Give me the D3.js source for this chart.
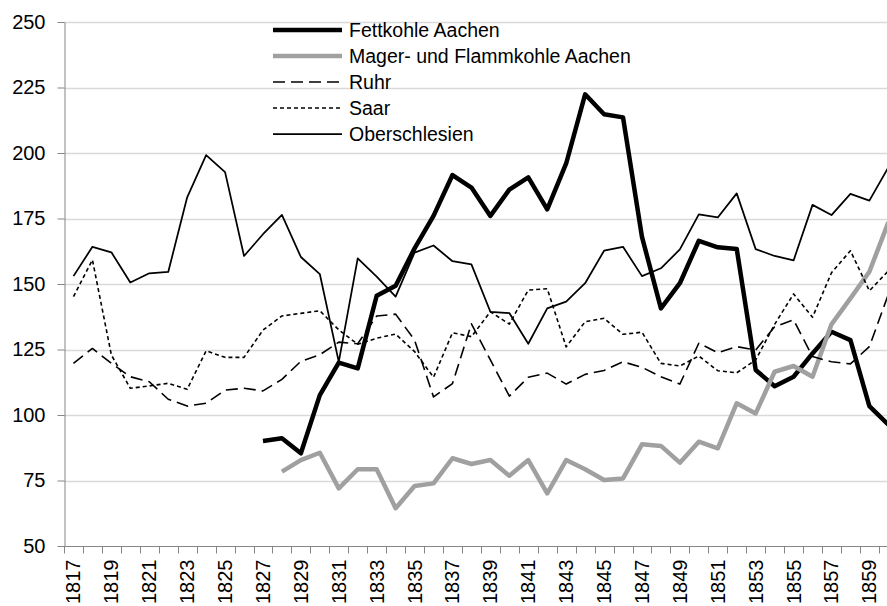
<!DOCTYPE html>
<html>
<head>
<meta charset="utf-8">
<script src="https://cdn.jsdelivr.net/npm/d3@7"></script>
<style>
  body { margin: 0; background: #fff; }
  svg { display: block; font-family: "Liberation Sans", Arial, sans-serif; }
</style>
</head>
<body>
<div id="chart"></div>
<script>
const years = d3.range(1817, 1861);

const fettkohle = [
  null, null, null, null, null, null, null, null, null, null,
  90.1, 91.1, 85.4, 107.6, 120.0, 117.8, 145.5, 149.3, 163.6, 176.0,
  191.6, 186.8, 176.0, 186.0, 190.7, 178.5, 196.0, 222.4, 214.8, 213.6,
  168.0, 140.7, 150.3, 166.5, 164.0, 163.4, 117.2, 111.0, 114.6, 123.5,
  131.8, 128.6, 103.4, 96.3
];

const magerkohle = [
  null, null, null, null, null, null, null, null, null, null,
  null, 78.4, 82.8, 85.6, 72.0, 79.3, 79.3, 64.4, 72.9, 73.9,
  83.5, 81.3, 82.8, 76.8, 82.8, 70.1, 82.8, 79.3, 75.2, 75.8,
  88.8, 88.2, 81.8, 89.8, 87.3, 104.5, 100.6, 116.5, 118.7, 114.6,
  134.6, 144.5, 154.7, 173.5
];

const ruhr = [
  119.7, 125.4, 119.7, 114.6, 112.7, 106.0, 103.4, 104.5, 109.5, 110.2,
  109.2, 113.6, 120.5, 123.0, 127.8, 127.2, 137.8, 138.5, 128.6, 106.9,
  112.0, 134.8, 121.0, 107.2, 114.4, 116.0, 111.8, 115.5, 117.0, 120.3,
  118.2, 114.6, 111.8, 127.4, 123.8, 126.1, 124.8, 133.7, 136.3, 122.3,
  120.3, 119.5, 126.1, 146.0
];

const saar = [
  145.2, 159.2, 122.9, 110.2, 111.1, 112.1, 109.8, 124.5, 122.0, 122.0,
  132.4, 137.8, 138.8, 139.8, 132.5, 127.0, 129.3, 130.9, 124.2, 114.4,
  131.4, 129.9, 139.4, 134.7, 147.7, 148.2, 126.0, 135.6, 136.9, 130.8,
  131.6, 119.7, 118.7, 122.5, 116.9, 116.1, 121.0, 134.6, 146.2, 137.3,
  154.3, 162.7, 147.4, 155.0
];

const oberschlesien = [
  153.0, 164.2, 162.1, 150.6, 154.1, 154.6, 183.1, 199.2, 192.7, 160.7,
  169.0, 176.4, 160.3, 153.8, 120.3, 159.8, 152.8, 145.2, 162.0, 164.7,
  158.7, 157.5, 139.4, 138.9, 127.2, 140.7, 143.3, 150.3, 162.7, 164.2,
  153.0, 156.0, 163.2, 176.6, 175.4, 184.6, 163.3, 160.7, 159.0, 180.2,
  176.3, 184.4, 181.8, 194.5
];

const yTicks = [50, 75, 100, 125, 150, 175, 200, 225, 250];

const series = [
  { name: "Fettkohle Aachen", values: fettkohle, color: "#000", width: 4.5, dash: null },
  { name: "Mager- und Flammkohle Aachen", values: magerkohle, color: "#a0a0a0", width: 4.5, dash: null },
  { name: "Ruhr", values: ruhr, color: "#000", width: 1.6, dash: "12,6" },
  { name: "Saar", values: saar, color: "#000", width: 1.6, dash: "4,3" },
  { name: "Oberschlesien", values: oberschlesien, color: "#000", width: 1.75, dash: null }
];

const width = 887, height = 606;
const margin = { left: 64, top: 22, bottom: 546 };
const plotRight = margin.left + years.length * 18.95;

const svg = d3.select("#chart").append("svg")
  .attr("width", width)
  .attr("height", height);

const x = d3.scaleBand().domain(years).range([margin.left, plotRight]).padding(0);
const y = d3.scaleLinear().domain([50, 250]).range([margin.bottom, margin.top]);
const cx = d => x(d) + x.bandwidth() / 2;

// gridlines
svg.append("g")
  .selectAll("line")
  .data(yTicks.filter(d => d > 50))
  .join("line")
  .attr("x1", margin.left).attr("x2", plotRight)
  .attr("y1", d => Math.round(y(d)) + 0.5)
  .attr("y2", d => Math.round(y(d)) + 0.5)
  .attr("stroke", "#d9d9d9")
  .attr("stroke-width", 1.5);

// y axis
const yAxis = svg.append("g")
  .attr("transform", `translate(${margin.left + 0.5},0)`)
  .call(d3.axisLeft(y).tickValues(yTicks).tickSize(7).tickPadding(12).tickSizeOuter(0));
yAxis.select(".domain").attr("stroke", "#868686");
yAxis.selectAll(".tick line").attr("stroke", "#868686");
yAxis.selectAll(".tick text").attr("font-size", 20).attr("fill", "#000")
  .attr("font-family", "'Liberation Sans', Arial, sans-serif");

// x axis
const xAxisG = svg.append("g").attr("transform", `translate(0,${margin.bottom + 0.5})`);
xAxisG.append("line")
  .attr("x1", margin.left).attr("x2", plotRight)
  .attr("stroke", "#868686");
xAxisG.selectAll(".xtick")
  .data(years.concat([null]))
  .join("line")
  .attr("class", "xtick")
  .attr("x1", d => d === null ? plotRight : Math.round(x(d)) + 0.5)
  .attr("x2", d => d === null ? plotRight : Math.round(x(d)) + 0.5)
  .attr("y1", 0).attr("y2", 7)
  .attr("stroke", "#868686");
xAxisG.selectAll(".xlabel")
  .data(years.filter(d => (d - 1817) % 2 === 0))
  .join("text")
  .attr("class", "xlabel")
  .attr("transform", d => `translate(${cx(d)},${13}) rotate(-90)`)
  .attr("text-anchor", "end")
  .attr("dy", "0.35em")
  .attr("font-size", 20)
  .text(d => d);

// lines
const line = d3.line()
  .defined(d => d[1] != null)
  .x(d => cx(d[0]))
  .y(d => y(d[1]));

svg.append("g")
  .selectAll("path")
  .data(series)
  .join("path")
  .attr("d", s => line(years.map((yr, i) => [yr, s.values[i]])))
  .attr("fill", "none")
  .attr("stroke", s => s.color)
  .attr("stroke-width", s => s.width)
  .attr("stroke-dasharray", s => s.dash)
  .attr("stroke-linejoin", "round");

// legend
const legend = svg.append("g").attr("transform", "translate(273,30)");
const rows = legend.selectAll("g")
  .data(series)
  .join("g")
  .attr("transform", (d, i) => `translate(0,${i * 26})`);
rows.append("line")
  .attr("x1", 0).attr("x2", 69)
  .attr("stroke", d => d.color)
  .attr("stroke-width", d => d.width)
  .attr("stroke-dasharray", d => d.dash);
rows.append("text")
  .attr("x", 76)
  .attr("dy", "0.35em")
  .attr("font-size", 19.5)
  .text(d => d.name);
</script>
</body>
</html>
